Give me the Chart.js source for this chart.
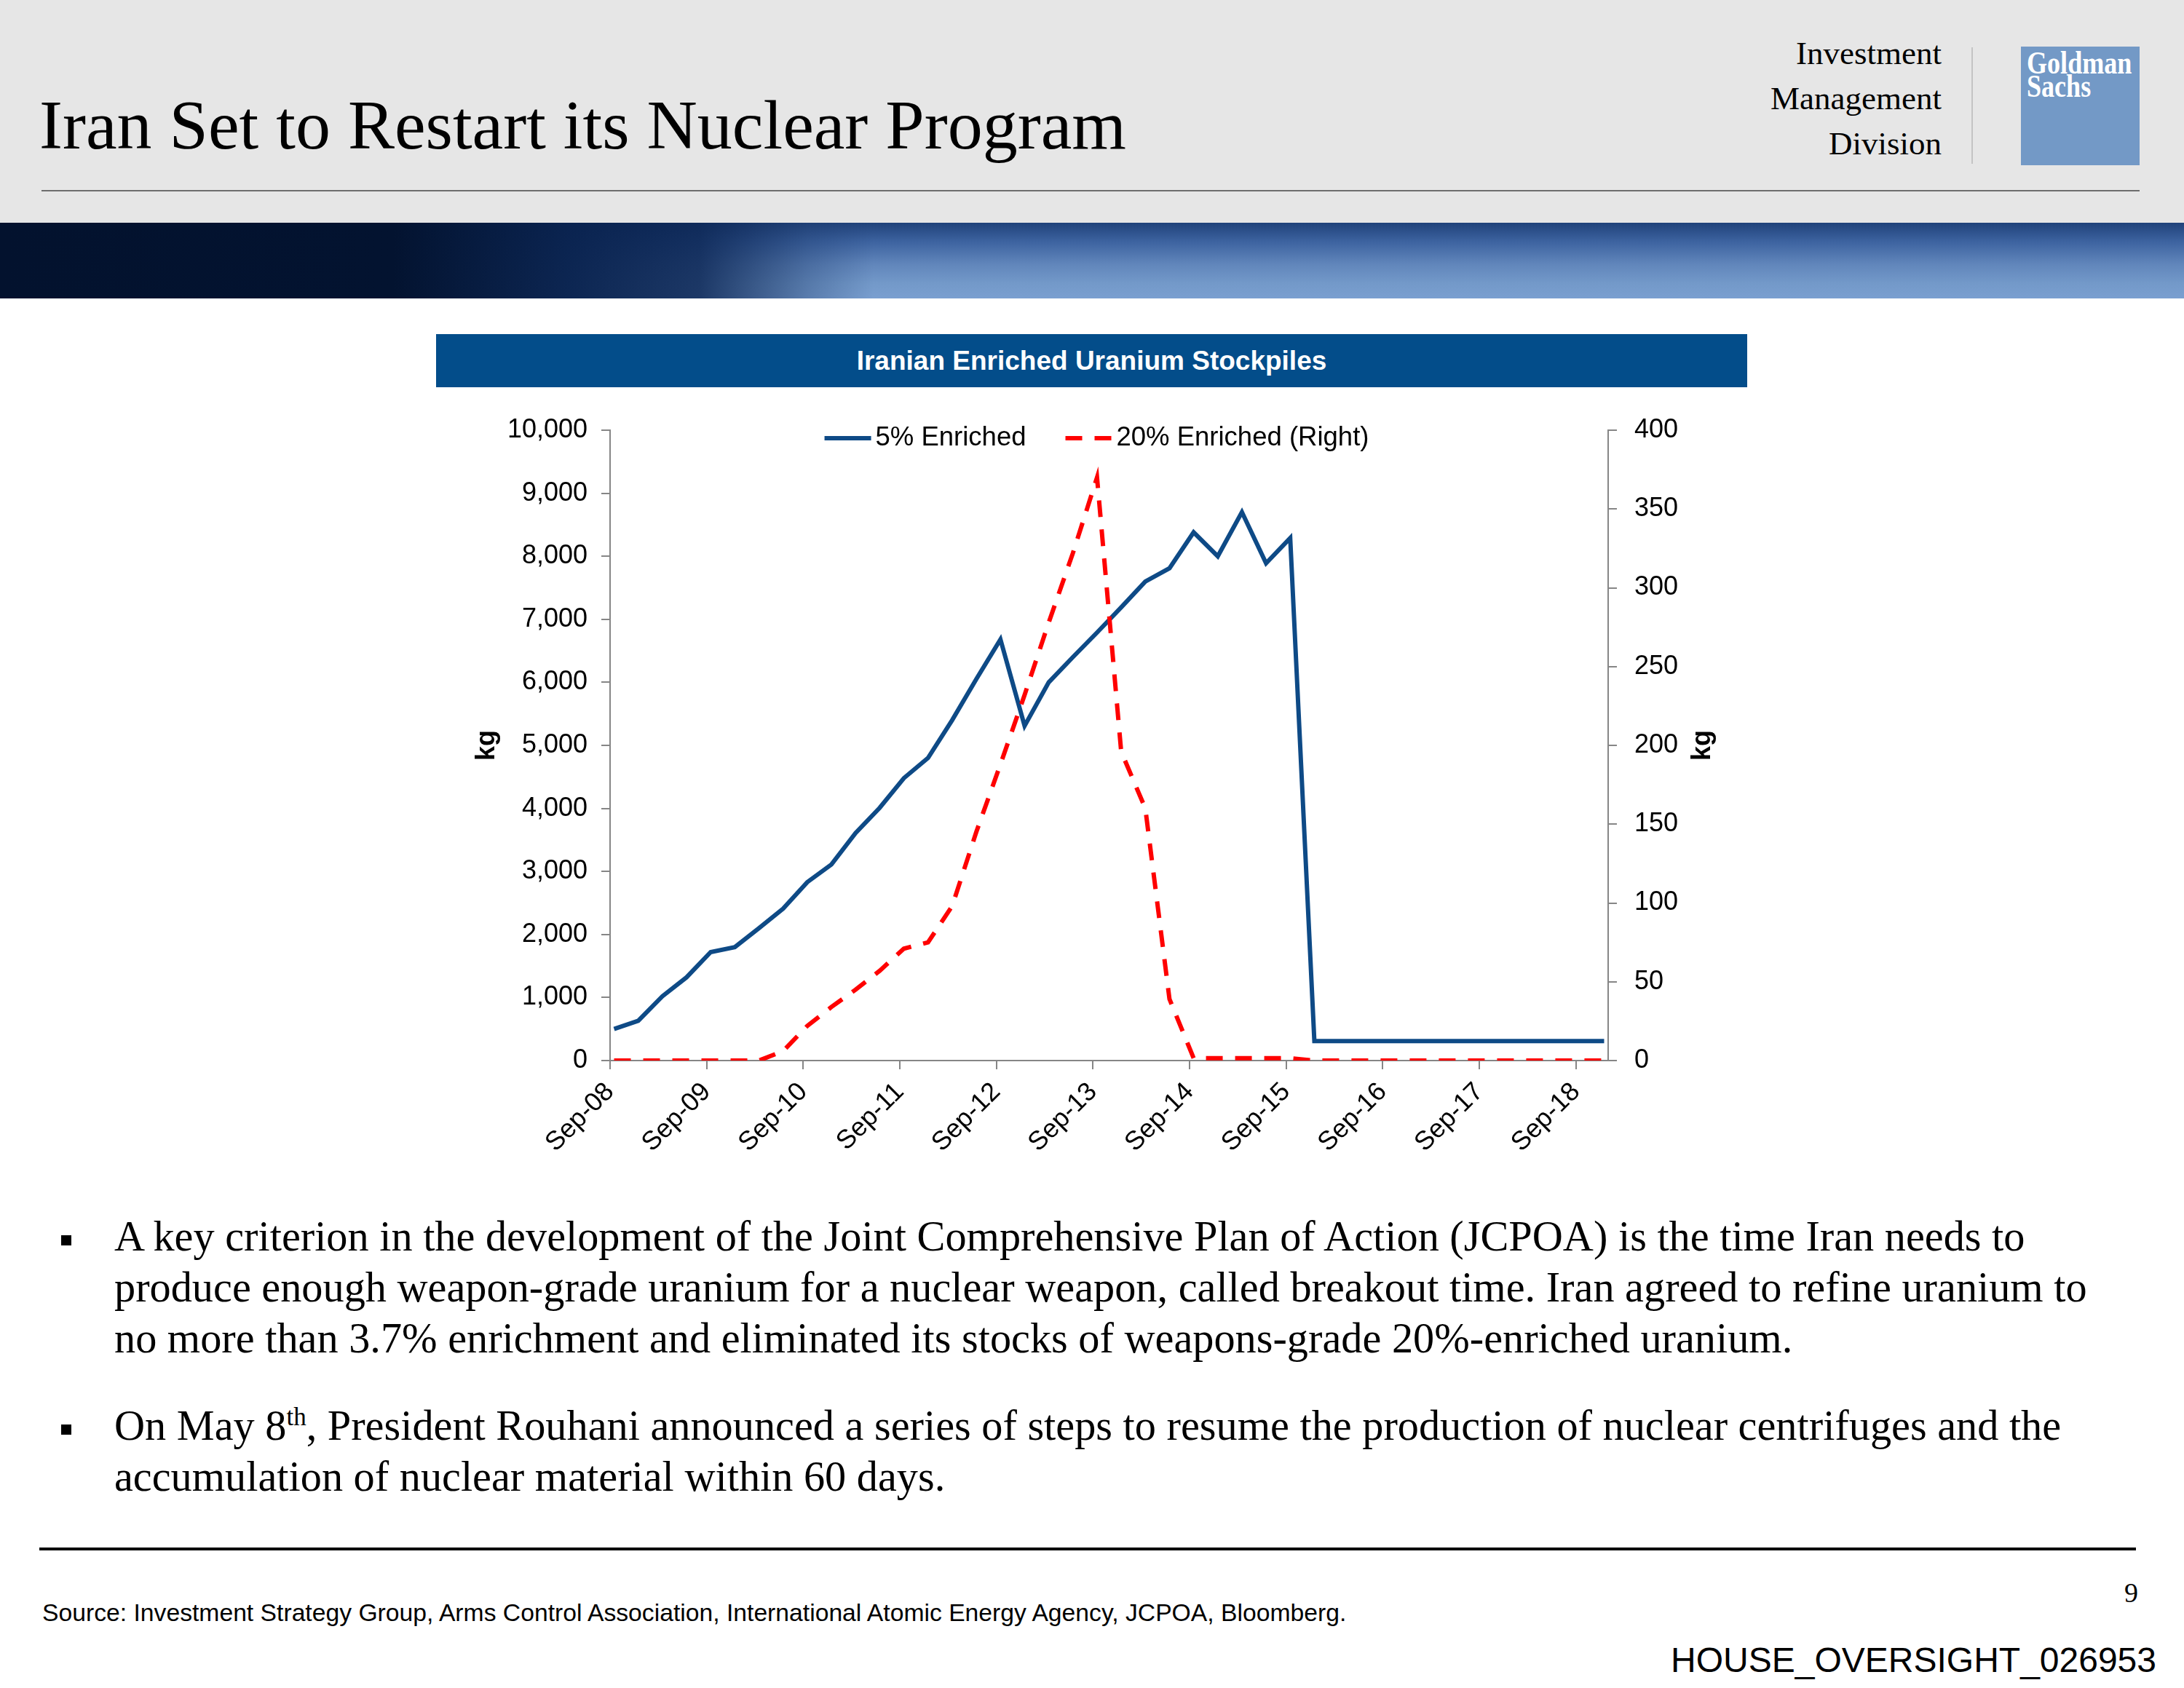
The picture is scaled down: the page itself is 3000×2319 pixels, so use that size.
<!DOCTYPE html>
<html>
<head>
<meta charset="utf-8">
<script src="https://cdn.jsdelivr.net/npm/chart.js@4.4.1/dist/chart.umd.min.js"></script>
<style>
  html, body { margin: 0; padding: 0; background: #fff; }
  body { width: 3000px; height: 2319px; position: relative; overflow: hidden; }
  .abs { position: absolute; white-space: nowrap; }
  #header { left: 0; top: 0; width: 3000px; height: 306px; background: #e6e6e6; }
  #band {
    left: 0; top: 306px; width: 3000px; height: 104px;
    background:
      linear-gradient(to right, rgba(3,18,46,1) 0%, rgba(3,19,48,1) 18%, rgba(9,34,78,0.97) 26%, rgba(12,38,84,0.85) 32%, rgba(30,60,110,0.35) 37%, rgba(0,0,0,0) 40%),
      linear-gradient(to bottom, #20427a 0%, #3d63a0 25%, #6186bb 55%, #7399c9 80%, #7a9fd0 100%);
  }
  .serif { font-family: "Liberation Serif", "Times New Roman", serif; color: #000; }
  .sans { font-family: "Liberation Sans", Arial, sans-serif; color: #000; }
  #title { left: 54px; top: 112px; font-size: 96px; line-height: 120px; }
  .division { right: 333px; font-size: 45px; line-height: 50px; }
  #sep { left: 2708px; top: 65px; width: 2px; height: 160px; background: #c4c4c4; }
  #rule { left: 57px; top: 261px; width: 2882px; height: 2px; background: #6d6d6d; }
  #logo { left: 2776px; top: 64px; width: 163px; height: 163px; background: #7399c6; }
  .logoText { color: #fff; font-family: "Liberation Serif", serif; font-weight: bold; font-size: 44px; line-height: 34px; transform: scaleX(0.82); transform-origin: left top; left: 8px; }
  #chartTitle { left: 599px; top: 459px; width: 1801px; height: 73px; background: #034d8a; color: #fff;
    font-family: "Liberation Sans", Arial, sans-serif; font-weight: bold; font-size: 37px; line-height: 73px; text-align: center; }
  #chartWrap { left: 599px; top: 540px; width: 1802px; height: 1100px; }
  .bullet { width: 14px; height: 14px; background: #000; }
  .body { left: 157px; font-size: 58.3px; line-height: 70px; }
  #bottomRule { left: 54px; top: 2126px; width: 2880px; height: 4px; background: #000; }
</style>
</head>
<body>
<div id="header" class="abs"></div>
<div id="title" class="abs serif">Iran Set to Restart its Nuclear Program</div>
<div class="abs serif division" style="top:48px">Investment</div>
<div class="abs serif division" style="top:110px">Management</div>
<div class="abs serif division" style="top:172px">Division</div>
<div id="sep" class="abs"></div>
<div id="logo" class="abs">
  <div class="abs logoText" style="top:6px">Goldman</div>
  <div class="abs logoText" style="top:38px">Sachs</div>
</div>
<div id="rule" class="abs"></div>
<div id="band" class="abs"></div>

<div id="chartTitle" class="abs">Iranian Enriched Uranium Stockpiles</div>
<div id="chartWrap" class="abs"><canvas id="myChart" width="1802" height="1100"></canvas></div>

<div class="abs bullet" style="left:84px; top:1697px"></div>
<div class="abs serif body" style="top:1664px">A key criterion in the development of the Joint Comprehensive Plan of Action (JCPOA) is the time Iran needs to<br>produce enough weapon-grade uranium for a nuclear weapon, called breakout time. Iran agreed to refine uranium to<br>no more than 3.7% enrichment and eliminated its stocks of weapons-grade 20%-enriched uranium.</div>
<div class="abs bullet" style="left:84px; top:1957px"></div>
<div class="abs serif body" style="top:1924px">On May 8<sup style="font-size:35px; line-height:0">th</sup>, President Rouhani announced a series of steps to resume the production of nuclear centrifuges and the<br>accumulation of nuclear material within 60 days.</div>

<div id="bottomRule" class="abs"></div>
<div class="abs serif" style="right:63px; top:2168px; font-size:38px; line-height:40px">9</div>
<div class="abs sans" style="left:58px; top:2196px; font-size:33.7px; line-height:38px">Source: Investment Strategy Group, Arms Control Association, International Atomic Energy Agency, JCPOA, Bloomberg.</div>
<div class="abs sans" style="right:38px; top:2255px; font-size:48px; line-height:52px">HOUSE_OVERSIGHT_026953</div>

<script>
// quarterly observations
const periods = [
  '2008-09', '2008-12', '2009-03', '2009-06', '2009-09', '2009-12', '2010-03', '2010-06',
  '2010-09', '2010-12', '2011-03', '2011-06', '2011-09', '2011-12', '2012-03', '2012-06',
  '2012-09', '2012-12', '2013-03', '2013-06', '2013-09', '2013-12', '2014-03', '2014-06',
  '2014-09', '2014-12', '2015-03', '2015-06', '2015-09', '2015-12', '2016-03', '2016-06',
  '2016-09', '2016-12', '2017-03', '2017-06', '2017-09', '2017-12', '2018-03', '2018-06',
  '2018-09', '2018-12'
];
const enriched5 = [
  500, 630, 1020, 1320, 1720, 1800, 2100, 2410,
  2830, 3110, 3610, 4010, 4480, 4800, 5400, 6050,
  6680, 5310, 6000, 6400, 6790, 7190, 7600, 7810,
  8380, 8000, 8700, 7890, 8290, 310, 310, 310,
  310, 310, 310, 310, 310, 310, 310, 310,
  310, 310
];
const enriched20 = [
  0, 0, 0, 0, 0, 0, 0, 6,
  22, 34, 45, 57, 71, 75, 98, 145,
  188, 232, 278, 322, 370, 196, 160, 39,
  1.5, 1.5, 1.5, 1.5, 1.5, 0, 0, 0,
  0, 0, 0, 0, 0, 0, 0, 0,
  0, 0
];
const xTickLabels = ['Sep-08', 'Sep-09', 'Sep-10', 'Sep-11', 'Sep-12', 'Sep-13', 'Sep-14', 'Sep-15', 'Sep-16', 'Sep-17', 'Sep-18'];
const seriesNames = ['5% Enriched', '20% Enriched (Right)'];

// months since Sep-08, points sit mid-month
const monthPos = (p) => {
  const [y, m] = p.split('-').map(Number);
  return (y - 2008) * 12 + (m - 9) + 0.5;
};
const toPoints = (vals) => vals.map((v, i) => ({ x: monthPos(periods[i]), y: v }));

const FONT = '"Liberation Sans", Arial, sans-serif';
const AXIS_GREY = '#868686';

// legend sits inside the plot, and right axis title reads bottom-to-top
const overlayText = {
  id: 'overlayText',
  afterDraw(chart) {
    const { ctx, chartArea } = chart;
    ctx.save();
    ctx.font = '36.5px ' + FONT;
    ctx.textBaseline = 'middle';
    ctx.textAlign = 'left';
    const sample = 64, gap = 6, itemGap = 54;
    const items = chart.data.datasets.map(ds => ({ ds, w: ctx.measureText(ds.label).width }));
    const total = items.reduce((s, it) => s + sample + gap + it.w, 0) + itemGap * (items.length - 1);
    let x = (chartArea.left + chartArea.right) / 2 - 17 - total / 2;
    const y = chartArea.top + 11;
    items.forEach(it => {
      ctx.strokeStyle = it.ds.borderColor;
      ctx.lineWidth = it.ds.borderWidth;
      ctx.setLineDash(it.ds.borderDash || []);
      ctx.beginPath();
      ctx.moveTo(x, y);
      ctx.lineTo(x + sample, y);
      ctx.stroke();
      ctx.setLineDash([]);
      ctx.fillStyle = '#000';
      ctx.fillText(it.ds.label, x + sample + gap, y);
      x += sample + gap + it.w + itemGap;
    });

    ctx.translate(chartArea.right + 130, (chartArea.top + chartArea.bottom) / 2);
    ctx.rotate(-Math.PI / 2);
    ctx.font = 'bold 36px ' + FONT;
    ctx.textAlign = 'center';
    ctx.fillText('kg', 0, 0);
    ctx.restore();
  }
};

const data = {
  datasets: [{
    label: seriesNames[0],
    data: toPoints(enriched5),
    borderColor: '#0e4a86',
    borderWidth: 6,
    pointRadius: 0,
    tension: 0,
    yAxisID: 'y',
    order: 1
  }, {
    label: seriesNames[1],
    data: toPoints(enriched20),
    borderColor: '#ff0000',
    borderWidth: 6,
    borderDash: [23, 17],
    pointRadius: 0,
    tension: 0,
    yAxisID: 'y2',
    order: 0
  }]
};

const config = {
  type: 'line',
  data,
  options: {
    responsive: false,
    maintainAspectRatio: false,
    devicePixelRatio: 1,
    animation: false,
    layout: { padding: { top: 51, left: 0, right: 0, bottom: 0 } },
    plugins: {
      legend: { display: false },
      tooltip: { enabled: false }
    },
    scales: {
      x: {
        type: 'linear',
        min: 0,
        max: 124,
        afterFit(scale) { scale.height = 183; },
        border: { display: true, color: AXIS_GREY, width: 2 },
        grid: { drawOnChartArea: false, color: AXIS_GREY, lineWidth: 2, tickLength: 12 },
        ticks: {
          stepSize: 12,
          includeBounds: false,
          autoSkip: false,
          minRotation: 45,
          maxRotation: 45,
          padding: 10,
          color: '#000',
          font: { family: FONT, size: 36 },
          callback: (v) => xTickLabels[v / 12]
        }
      },
      y: {
        position: 'left',
        min: 0,
        max: 10000,
        afterFit(scale) { scale.width = 239; },
        border: { display: true, color: AXIS_GREY, width: 2 },
        grid: { drawOnChartArea: false, color: AXIS_GREY, lineWidth: 2, tickLength: 12 },
        ticks: {
          stepSize: 1000,
          padding: 19,
          color: '#000',
          font: { family: FONT, size: 36 },
          callback: (v) => v.toLocaleString('en-US')
        },
        title: {
          display: true,
          text: 'kg',
          color: '#000',
          padding: { top: 48, bottom: 0 },
          font: { family: FONT, size: 36, weight: 'bold' }
        }
      },
      y2: {
        position: 'right',
        min: 0,
        max: 400,
        afterFit(scale) { scale.width = 192; },
        border: { display: true, color: AXIS_GREY, width: 2 },
        grid: { drawOnChartArea: false, color: AXIS_GREY, lineWidth: 2, tickLength: 12 },
        ticks: {
          stepSize: 50,
          padding: 24,
          color: '#000',
          font: { family: FONT, size: 36 }
        }
      }
    }
  },
  plugins: [overlayText]
};

const myChart = new Chart(document.getElementById('myChart'), config);
</script>
</body>
</html>
